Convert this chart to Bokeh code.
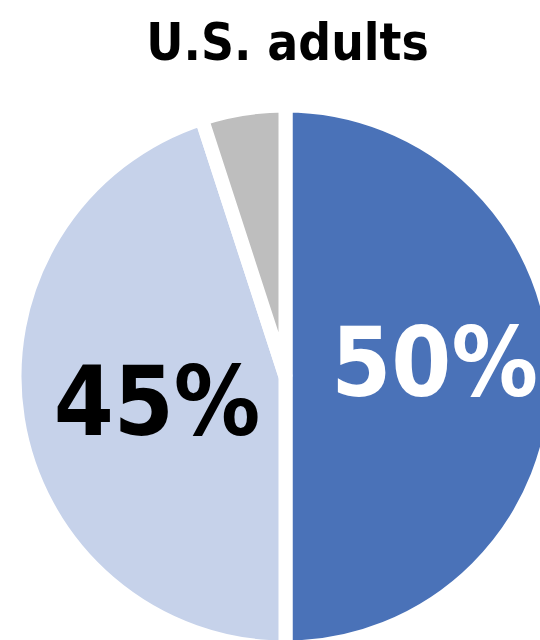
import numpy as np
from bokeh.plotting import figure
from bokeh.models import Range1d, Label, ColumnDataSource
from bokeh.core.properties import value
from bokeh.embed import file_html
from bokeh.resources import INLINE

# ---- data ----
title_text = "U.S. adults"
categories = ["Yes", "No", "No answer"]
shares = [50, 45, 5]
label_texts = ["50%", "45%", ""]

# ---- style ----
colors = ["#4A72B8", "#C6D2EA", "#BEBEBE"]
label_colors = ["#FFFFFF", "#000000", "#000000"]
label_radius = [0.55, 0.48, 0.0]
label_dy = [49, 30, 0]
W, H = 540, 640
cx, cy, R = 285, H - 376, 271
font = "DejaVu Sans Condensed"
label_px = 96
title_px = 51

# angles: start at top, go clockwise
total = float(sum(shares))
starts, ends, lx, ly = [], [], [], []
cur = np.pi / 2
for s, fr, dy in zip(shares, label_radius, label_dy):
    nxt = cur - s / total * 2 * np.pi
    starts.append(nxt)
    ends.append(cur)
    mid = (cur + nxt) / 2
    lx.append(cx + fr * R * np.cos(mid))
    ly.append(cy + fr * R * np.sin(mid) + dy - 0.365 * label_px)
    cur = nxt

src = ColumnDataSource(dict(
    cat=categories, share=shares, start=starts, end=ends,
    color=colors, x=[cx] * len(shares), y=[cy] * len(shares),
    lx=lx, ly=ly, text=label_texts, tcolor=label_colors,
))

p = figure(width=W, height=H, output_backend="svg", toolbar_location=None,
           x_range=Range1d(0, W), y_range=Range1d(0, H), min_border=0)
p.axis.visible = False
p.grid.visible = False
p.outline_line_color = None
p.background_fill_color = "white"
p.border_fill_color = "white"

p.wedge(x="x", y="y", radius=R, start_angle="start", end_angle="end",
        fill_color="color", line_color="white", line_width=14, source=src)

p.text(x="lx", y="ly", text="text", text_color="tcolor",
       text_font=value(font), text_font_style="bold",
       text_font_size=f"{label_px}px", text_align="center",
       text_baseline="alphabetic", source=src)

p.add_layout(Label(x=cx + 2, y=H - 42, text=title_text, text_font=font,
                   text_font_style="bold", text_font_size=f"{title_px}px",
                   text_align="center", text_baseline="alphabetic",
                   text_color="black"))

open("out.html", "w").write(file_html(p, INLINE))
